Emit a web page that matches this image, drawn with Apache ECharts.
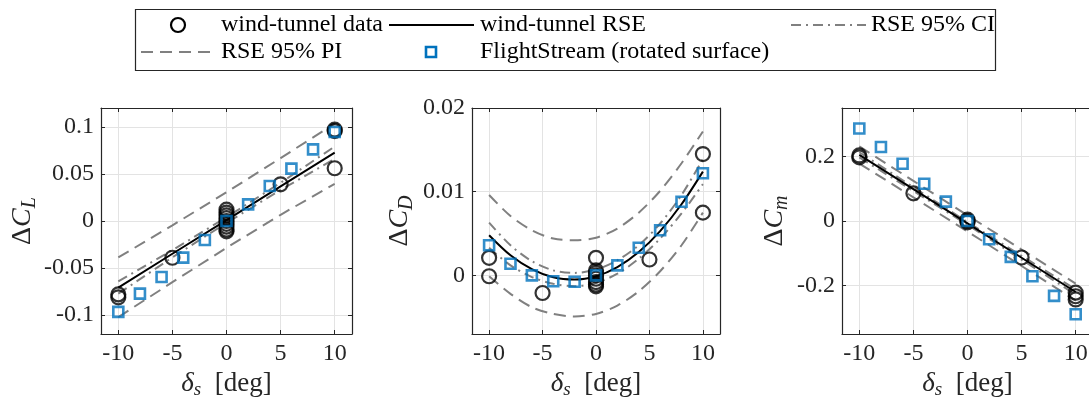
<!DOCTYPE html>
<html>
<head>
<meta charset="utf-8">
<script src="https://cdn.jsdelivr.net/npm/echarts@6/dist/echarts.min.js"></script>
<style>html,body{margin:0;padding:0;background:#fff}#c{width:1089px;height:400px}</style>
</head>
<body>
<div id="c"></div>
<script>
// ---------- data ----------
const xTicks = [-10, -5, 0, 5, 10];
const fsX = [-10, -8, -6, -4, -2, 0, 2, 4, 6, 8, 10];
const linFitX = [-10, -5, 0, 5, 10];
const quadFitX = [-10, -8, -6, -4, -2, 0, 2, 4, 6, 8, 10];

// Delta C_L
const clTicks = [-0.1, -0.05, 0, 0.05, 0.1];
const clWtX = [-10, -10, -5, 0, 0, 0, 0, 0, 0, 0, 0, 0, 5, 10, 10, 10];
const clWtY = [-0.078, -0.081, -0.039, 0.012, 0.009, 0.006, 0.003, 0, -0.003, -0.006, -0.009, -0.011, 0.039, 0.097, 0.0955, 0.056];
const clFs = [-0.0965, -0.0771, -0.0594, -0.0389, -0.0201, 0, 0.0177, 0.0372, 0.0556, 0.0761, 0.0945];
const clRse = [-0.0707, -0.0348, 0.001, 0.0368, 0.0726];
const clCiUp = [-0.0642, -0.0310, 0.004, 0.0406, 0.0791];
const clCiLo = [-0.0772, -0.0386, -0.002, 0.0330, 0.0661];
const clPiUp = [-0.0387, -0.0046, 0.0305, 0.0668, 0.1035];
const clPiLo = [-0.102, -0.065, -0.0285, 0.0066, 0.0395];

// Delta C_D
const cdTicks = [0, 0.01, 0.02];
const cdWtX = [-10, -10, -5, 0, 0, 0, 0, 0, 0, 0, 0, 5, 10, 10];
const cdWtY = [0.0021, -0.0001, -0.0021, 0.0021, 0.0006, 0.0003, 0, -0.0004, -0.0008, -0.0011, -0.0013, 0.0019, 0.0145, 0.0075];
const cdFs = [0.0036, 0.0014, 0.0000, -0.0007, -0.00075, 0, 0.0012, 0.0033, 0.0054, 0.0088, 0.0122];
const cdRse = [0.0048, 0.0024, 0.00075, -0.00023, -0.0005, -0.0001, 0.001, 0.0028, 0.0053, 0.0085, 0.0124];
const cdCiUp = [0.0063, 0.0036, 0.0017, 0.0006, 0.0003, 0.0007, 0.0018, 0.0036, 0.0062, 0.0096, 0.0139];
const cdCiLo = [0.0033, 0.0012, -0.0002, -0.0010, -0.0013, -0.0009, 0.0002, 0.0020, 0.0044, 0.0074, 0.0109];
const cdPiUp = [0.0096, 0.0071, 0.0054, 0.0044, 0.0042, 0.0045, 0.0056, 0.0075, 0.0101, 0.0134, 0.0172];
const cdPiLo = [-0.0001, -0.0022, -0.0038, -0.0046, -0.0049, -0.0046, -0.0036, -0.0019, 0.0005, 0.0036, 0.0075];

// Delta C_m
const cmTicks = [-0.2, 0, 0.2];
const cmWtX = [-10, -10, -5, 0, 0, 0, 5, 10, 10, 10];
const cmWtY = [0.203, 0.197, 0.0857, 0.004, 0, -0.004, -0.113, -0.222, -0.233, -0.243];
const cmFs = [0.2867, 0.229, 0.1775, 0.1156, 0.060, 0, -0.0566, -0.111, -0.171, -0.232, -0.2886];
const cmRse = [0.205, 0.0988, -0.0075, -0.1138, -0.220];
const cmCiUp = [0.213, 0.1048, -0.0035, -0.1078, -0.212];
const cmCiLo = [0.197, 0.0928, -0.0115, -0.1198, -0.228];
const cmPiUp = [0.231, 0.1243, 0.0175, -0.0883, -0.194];
const cmPiLo = [0.178, 0.0733, -0.0325, -0.1393, -0.246];

const legendNames = ['wind-tunnel data', 'wind-tunnel RSE', 'RSE 95% CI', 'RSE 95% PI', 'FlightStream (rotated surface)'];

// ---------- styling ----------
const FONT = 'Liberation Serif';
const AX = '#262626';
const GRID = '#e3e3e3';
const GRAY = '#808080';
const BLUE = '#0072BD';
const DASH = [12, 7];
const DASHDOT = [10, 5, 2, 5];

const panels = [
  {left: 101, width: 251, xmin: -11.6, xmax: 11.6, ymin: -0.12, ymax: 0.12, yTicks: clTicks, sub: 'L', gap: 58,
   fitX: linFitX, rse: clRse, ciUp: clCiUp, ciLo: clCiLo, piUp: clPiUp, piLo: clPiLo, wtX: clWtX, wtY: clWtY, fs: clFs},
  {left: 472, width: 248, xmin: -11.6, xmax: 11.6, ymin: -0.007, ymax: 0.02, yTicks: cdTicks, sub: 'D', gap: 55,
   fitX: quadFitX, rse: cdRse, ciUp: cdCiUp, ciLo: cdCiLo, piUp: cdPiUp, piLo: cdPiLo, wtX: cdWtX, wtY: cdWtY, fs: cdFs},
  {left: 842, width: 251, xmin: -11.6, xmax: 11.6, ymin: -0.35, ymax: 0.35, yTicks: cmTicks, sub: 'm', gap: 50,
   fitX: linFitX, rse: cmRse, ciUp: cmCiUp, ciLo: cmCiLo, piUp: cmPiUp, piLo: cmPiLo, wtX: cmWtX, wtY: cmWtY, fs: cmFs}
];

const zip = (xs, ys) => xs.map((x, i) => [x, ys[i]]);

const grid = [], xAxis = [], yAxis = [], series = [];
panels.forEach((p, i) => {
  grid.push({left: p.left, top: 108, width: p.width, height: 226, containLabel: false, outerBoundsMode: 'none'});
});
panels.forEach((p, i) => {
  xAxis.push({
    gridIndex: i, type: 'value', min: p.xmin, max: p.xmax, position: 'bottom',
    axisLine: {onZero: false, lineStyle: {color: AX, width: 1.2}},
    axisTick: {inside: true, length: 4, customValues: xTicks, lineStyle: {color: AX}},
    axisLabel: {customValues: xTicks, formatter: v => String(v), color: AX, fontFamily: FONT, fontSize: 24, margin: 8},
    splitLine: {show: true, lineStyle: {color: GRID, width: 1}},
    name: '{d|δ}{s|s}{n|  [deg]}', nameLocation: 'middle', nameGap: 34,
    nameTextStyle: {color: AX, fontFamily: FONT, fontSize: 27,
      rich: {d: {fontFamily: FONT, fontSize: 27, fontStyle: 'italic', color: AX},
             s: {fontFamily: FONT, fontSize: 19, fontStyle: 'italic', color: AX, padding: [11, 0, 0, 0]},
             n: {fontFamily: FONT, fontSize: 27, color: AX}}}
  });
  yAxis.push({
    gridIndex: i, type: 'value', min: p.ymin, max: p.ymax, position: 'left',
    axisLine: {onZero: false, show: true, lineStyle: {color: AX, width: 1.2}},
    axisTick: {show: true, inside: true, length: 4, customValues: p.yTicks, lineStyle: {color: AX}},
    axisLabel: {customValues: p.yTicks, formatter: v => String(v), color: AX, fontFamily: FONT, fontSize: 24, margin: 7},
    splitLine: {show: true, lineStyle: {color: GRID, width: 1}},
    name: '{d|Δ}{c|C}{s|' + p.sub + '}', nameLocation: 'middle', nameGap: p.gap, nameRotate: 90,
    nameTextStyle: {color: AX, fontFamily: FONT, fontSize: 28,
      rich: {d: {fontFamily: FONT, fontSize: 28, color: AX},
             c: {fontFamily: FONT, fontSize: 28, fontStyle: 'italic', color: AX},
             s: {fontFamily: FONT, fontSize: 20, fontStyle: 'italic', color: AX, padding: [14, 0, 0, 0]}}}
  });
});
// box: top and right axes
panels.forEach((p, i) => {
  xAxis.push({
    gridIndex: i, type: 'value', min: p.xmin, max: p.xmax, position: 'top',
    axisLine: {onZero: false, lineStyle: {color: AX, width: 1.2}},
    axisTick: {inside: true, length: 4, customValues: xTicks, lineStyle: {color: AX}},
    axisLabel: {show: false}, splitLine: {show: false}
  });
  yAxis.push({
    gridIndex: i, type: 'value', min: p.ymin, max: p.ymax, position: 'right',
    axisLine: {onZero: false, show: true, lineStyle: {color: AX, width: 1.2}},
    axisTick: {show: true, inside: true, length: 4, customValues: p.yTicks, lineStyle: {color: AX}},
    axisLabel: {show: false}, splitLine: {show: false}
  });
});

panels.forEach((p, i) => {
  const base = {xAxisIndex: i, yAxisIndex: i, silent: true};
  const line = (name, ys, color, type, width) => Object.assign({}, base, {
    name, type: 'line', data: zip(p.fitX, ys), showSymbol: false, symbol: 'none', smooth: p.fitX.length > 5 ? 0.3 : false,
    lineStyle: {color, type, width}, z: 2
  });
  series.push(line(legendNames[3], p.piUp, GRAY, DASH, 2));
  series.push(line(legendNames[3], p.piLo, GRAY, DASH, 2));
  series.push(line(legendNames[2], p.ciUp, GRAY, DASHDOT, 2));
  series.push(line(legendNames[2], p.ciLo, GRAY, DASHDOT, 2));
  series.push(line(legendNames[1], p.rse, '#000', 'solid', 2));
  series.push(Object.assign({}, base, {
    name: legendNames[0], type: 'scatter', data: zip(p.wtX, p.wtY), symbol: 'circle', symbolSize: 14,
    itemStyle: {color: 'rgba(0,0,0,0)', borderColor: '#000', borderWidth: 2.2}, z: 3
  }));
  series.push(Object.assign({}, base, {
    name: legendNames[4], type: 'scatter', data: zip(fsX, p.fs), symbol: 'rect', symbolSize: 10,
    itemStyle: {color: 'rgba(0,0,0,0)', borderColor: BLUE, borderWidth: 2.6}, z: 4
  }));
});

// ---------- legend (drawn) ----------
const r1 = 25, r2 = 52;
const txt = (x, y, s) => ({type: 'text', x, y, style: {text: s, fill: '#000', font: '24px "' + FONT + '"', verticalAlign: 'middle', align: 'left'}});
const graphic = [
  {type: 'rect', shape: {x: 135.5, y: 9.5, width: 860, height: 61}, style: {fill: '#fff', stroke: AX, lineWidth: 1.2}, z: 10},
  {type: 'circle', shape: {cx: 178, cy: r1, r: 7}, style: {fill: 'none', stroke: '#000', lineWidth: 2.2}, z: 11},
  txt(221, r1, legendNames[0]),
  {type: 'line', shape: {x1: 389, y1: r1, x2: 474, y2: r1}, style: {stroke: '#000', lineWidth: 2}, z: 11},
  txt(480, r1, legendNames[1]),
  {type: 'line', shape: {x1: 791, y1: r1, x2: 866, y2: r1}, style: {stroke: GRAY, lineWidth: 2, lineDash: DASHDOT}, z: 11},
  txt(871, r1, legendNames[2]),
  {type: 'line', shape: {x1: 141, y1: r2, x2: 216, y2: r2}, style: {stroke: GRAY, lineWidth: 2, lineDash: DASH}, z: 11},
  txt(221, r2, legendNames[3]),
  {type: 'rect', shape: {x: 426, y: r2 - 5, width: 10, height: 10}, style: {fill: 'none', stroke: BLUE, lineWidth: 2.6}, z: 11},
  txt(480, r2, legendNames[4])
].map(g => Object.assign({z: 11}, g));

const chart = echarts.init(document.getElementById('c'), null, {renderer: 'canvas'});
chart.setOption({animation: false, backgroundColor: '#fff', grid, xAxis, yAxis, series, graphic});
</script>
</body>
</html>
